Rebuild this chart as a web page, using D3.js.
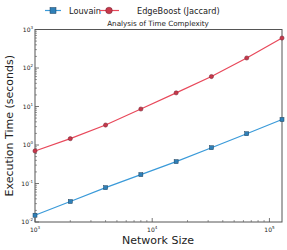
<!DOCTYPE html>
<style>
    body { margin: 0; background: #fff; font-family: 'DejaVu Sans', sans-serif; }
    .axis .domain { display: none; }
    .axis text { font-size: 6px; fill: #222; }
</style>
<svg width="287" height="250"></svg>
<script src="https://d3js.org/d3.v7.min.js"></script>
<script>
    var sizes = [1000, 2000, 4000, 8000, 16000, 32000, 64000, 128000];
    var louvain = [0.015, 0.034, 0.078, 0.17, 0.37, 0.85, 1.96, 4.6];
    var edgeboost = [0.7, 1.46, 3.3, 8.6, 22.6, 60, 182, 600];
    var xTicks = [1e3, 1e4, 1e5];
    var yTicks = [1e-2, 1e-1, 1e0, 1e1, 1e2, 1e3];

    var svg = d3.select("svg"),
        margin = {top: 29.5, right: 5, bottom: 28, left: 35},
        width = 287 - margin.left - margin.right,
        height = 250 - margin.top - margin.bottom,
        g = svg.append("g").attr("transform", "translate(" + margin.left + "," + margin.top + ")");

    var x = d3.scaleLog().domain([1000, 128000]).range([0, width]);
    var y = d3.scaleLog().domain([1e-2, 1e3]).range([height, 0]);

    // minor ticks
    var xMinor = [], yMinor = [];
    [1e3, 1e4, 1e5].forEach(function (b) {
        for (var k = 2; k < 10; k++) if (b * k <= 128000) xMinor.push(b * k);
    });
    [1e-2, 1e-1, 1e0, 1e1, 1e2].forEach(function (b) {
        for (var k = 2; k < 10; k++) yMinor.push(b * k);
    });

    function sup(v) {
        var e = Math.round(Math.log10(v));
        return e;
    }

    // x axis
    var xa = g.append("g").attr("class", "axis").attr("transform", "translate(0," + height + ")");
    xa.selectAll(".minor").data(xMinor).enter().append("line")
        .attr("x1", x).attr("x2", x).attr("y1", 0).attr("y2", -2)
        .attr("stroke", "#555").attr("stroke-width", 0.6);
    xa.selectAll(".major").data(xTicks).enter().append("line")
        .attr("x1", x).attr("x2", x).attr("y1", 0).attr("y2", -4)
        .attr("stroke", "#555").attr("stroke-width", 0.8);
    var xt = xa.selectAll(".lab").data(xTicks).enter().append("text")
        .attr("x", x).attr("y", 10).attr("text-anchor", "middle");
    xt.append("tspan").text("10");
    xt.append("tspan").attr("dy", -3).attr("font-size", 4).text(function (d) { return sup(d); });

    // y axis
    var ya = g.append("g").attr("class", "axis");
    ya.selectAll(".minor").data(yMinor).enter().append("line")
        .attr("y1", y).attr("y2", y).attr("x1", 0).attr("x2", 2)
        .attr("stroke", "#555").attr("stroke-width", 0.6);
    ya.selectAll(".major").data(yTicks).enter().append("line")
        .attr("y1", y).attr("y2", y).attr("x1", 0).attr("x2", 4)
        .attr("stroke", "#555").attr("stroke-width", 0.8);
    var yt = ya.selectAll(".lab").data(yTicks).enter().append("text")
        .attr("x", -2).attr("y", function (d) { return y(d) + 2; }).attr("text-anchor", "end");
    yt.append("tspan").text("10");
    yt.append("tspan").attr("dy", -3).attr("font-size", 4).text(function (d) { return sup(d); });

    // frame
    g.append("rect").attr("width", width).attr("height", height)
        .attr("fill", "none").attr("stroke", "#555").attr("stroke-width", 1);

    var line = d3.line().x(function (d) { return x(d[0]); }).y(function (d) { return y(d[1]); });

    var lv = sizes.map(function (s, i) { return [s, louvain[i]]; });
    var eb = sizes.map(function (s, i) { return [s, edgeboost[i]]; });

    g.append("path").datum(eb).attr("d", line).attr("fill", "none")
        .attr("stroke", "#e8485a").attr("stroke-width", 1.2);
    g.selectAll(".eb").data(eb).enter().append("circle")
        .attr("cx", function (d) { return x(d[0]); }).attr("cy", function (d) { return y(d[1]); })
        .attr("r", 2.1).attr("fill", "#c8384a").attr("stroke", "#6a2030").attr("stroke-width", 0.5);

    g.append("path").datum(lv).attr("d", line).attr("fill", "none")
        .attr("stroke", "#3a9ad9").attr("stroke-width", 1.2);
    g.selectAll(".lv").data(lv).enter().append("rect")
        .attr("x", function (d) { return x(d[0]) - 2; }).attr("y", function (d) { return y(d[1]) - 2; })
        .attr("width", 4).attr("height", 4)
        .attr("fill", "#2f80b8").attr("stroke", "#1d3f5a").attr("stroke-width", 0.5);

    // title
    svg.append("text").attr("x", 158).attr("y", 26).attr("text-anchor", "middle")
        .attr("font-size", 7.2).attr("fill", "#222").text("Analysis of Time Complexity");

    // axis labels
    svg.append("text").attr("x", 158).attr("y", 244).attr("text-anchor", "middle")
        .attr("font-size", 11).attr("fill", "#222").text("Network Size");
    svg.append("text").attr("transform", "translate(13," + (margin.top + height / 2) + ") rotate(-90)")
        .attr("text-anchor", "middle").attr("font-size", 11).attr("fill", "#222")
        .text("Execution Time (seconds)");

    // legend
    var leg = svg.append("g");
    leg.append("line").attr("x1", 45).attr("x2", 61).attr("y1", 10.5).attr("y2", 10.5)
        .attr("stroke", "#3a9ad9").attr("stroke-width", 1.2);
    leg.append("rect").attr("x", 50).attr("y", 7.5).attr("width", 6).attr("height", 6)
        .attr("fill", "#2f80b8").attr("stroke", "#1d3f5a").attr("stroke-width", 0.5);
    leg.append("text").attr("x", 69).attr("y", 13.5).attr("font-size", 8.2).attr("fill", "#222").text("Louvain");
    leg.append("line").attr("x1", 99).attr("x2", 119).attr("y1", 10.5).attr("y2", 10.5)
        .attr("stroke", "#e8485a").attr("stroke-width", 1.2);
    leg.append("circle").attr("cx", 109).attr("cy", 10.5).attr("r", 3.3)
        .attr("fill", "#c8384a").attr("stroke", "#6a2030").attr("stroke-width", 0.5);
    leg.append("text").attr("x", 137).attr("y", 13.5).attr("font-size", 8.2).attr("fill", "#222").text("EdgeBoost (Jaccard)");
</script>
